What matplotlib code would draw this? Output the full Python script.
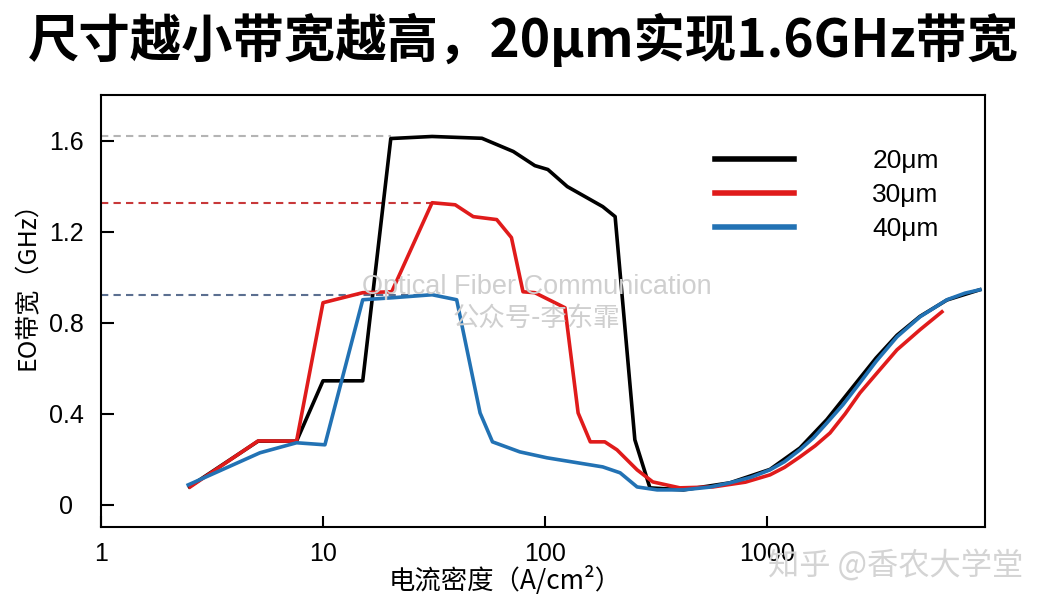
import matplotlib
matplotlib.use("Agg")
import matplotlib.pyplot as plt
import numpy as np

plt.rcParams['font.family'] = ['Liberation Sans', 'Noto Sans CJK SC', 'DejaVu Sans']

title = "尺寸越小带宽越高，20μm实现1.6GHz带宽"
xlabel = "电流密度（A/cm²）"
ylabel = "EO带宽（GHz）"
labels = ["20μm", "30μm", "40μm"]
colors = ["#000000", "#e01b1b", "#2272b4"]
dash_colors = ["#b4b4b4", "#c8383a", "#5b6f90"]
xticks = [1, 10, 100, 1000]
xtick_labels = ["1", "10", "100", "1000"]
yticks = [0, 0.4, 0.8, 1.2, 1.6]
ytick_labels = ["0", "0.4", "0.8", "1.2", "1.6"]

# current density (A/cm2) and EO bandwidth (GHz)
x_20 = [2.5, 5.1, 7.6, 10, 15.1, 20.2, 31, 52, 72, 90, 103, 126, 182, 207, 254, 297,
        420, 681, 1032, 1408, 1862, 2541, 3100, 3851, 4890, 6470, 9100]
y_20 = [0.08, 0.28, 0.28, 0.545, 0.545, 1.609, 1.618, 1.61, 1.552, 1.49, 1.473, 1.398, 1.31, 1.266, 0.286, 0.075,
        0.066, 0.097, 0.156, 0.25, 0.375, 0.54, 0.645, 0.745, 0.828, 0.9, 0.945]

x_30 = [2.52, 5.1, 7.6, 10, 15.1, 20.4, 31, 39.4, 47.5, 60.6, 70.6, 79.6, 90, 123, 141, 160, 186, 211, 260, 306,
        405, 571, 800, 1032, 1200, 1408, 1650, 1923, 2250, 2624, 3200, 3851, 4900, 6140]
y_30 = [0.079, 0.281, 0.28, 0.888, 0.932, 0.936, 1.327, 1.318, 1.266, 1.253, 1.174, 0.936, 0.932, 0.866, 0.404, 0.277, 0.277, 0.242, 0.154, 0.101,
        0.075, 0.079, 0.10, 0.132, 0.165, 0.211, 0.26, 0.316, 0.40, 0.492, 0.59, 0.681, 0.77, 0.848]

x_40 = [2.47, 5.2, 7.6, 10.2, 15.1, 20.7, 31, 40, 51, 58, 77, 102, 182, 218, 260, 320,
        419, 550, 681, 850, 1032, 1200, 1408, 1620, 1862, 2200, 2541, 3100, 3851, 4890, 6470, 7800, 9100]
y_40 = [0.088, 0.229, 0.273, 0.264, 0.901, 0.910, 0.923, 0.901, 0.404, 0.277, 0.233, 0.207, 0.167, 0.141, 0.079, 0.066,
        0.066, 0.078, 0.097, 0.122, 0.154, 0.19, 0.242, 0.295, 0.36, 0.44, 0.519, 0.63, 0.738, 0.826, 0.901, 0.93, 0.945]

series = [(x_20, y_20), (x_30, y_30), (x_40, y_40)]

fig = plt.figure(figsize=(10.48, 6.08), dpi=100)
ax = fig.add_axes([0.0964, 0.1332, 0.8435, 0.7105])

# dashed guides to the peak of each curve (low current hump)
for (xs, ys), dc in zip(series, dash_colors):
    xs = np.array(xs)
    ys = np.array(ys)
    low = xs < 100
    peak = ys[low].max()
    x_end = xs[np.argmax(ys >= 0.99 * peak)]
    ax.plot([1, x_end], [peak, peak], color=dc, lw=1.5, dashes=(3.5, 2.5), zorder=1)

for (xs, ys), c, lab in zip(series, colors, labels):
    ax.plot(xs, ys, color=c, lw=2.6, label=lab, zorder=3)

ax.set_xscale('log')
ax.set_xlim(1, 9600)
ax.set_ylim(-0.097, 1.80)
ax.set_xticks(xticks)
ax.set_xticklabels(xtick_labels)
ax.set_xticks([], minor=True)
ax.set_yticks(yticks)
ax.set_yticklabels(ytick_labels, ha='center')
ax.tick_params(axis='y', direction='in', length=9, width=1.5, labelsize=18, pad=25)
ax.tick_params(axis='x', direction='in', length=8, width=1.5, labelsize=18, pad=11)
for s in ax.spines.values():
    s.set_linewidth(1.5)

leg = ax.legend(loc='upper left', bbox_to_anchor=(0.668, 0.93), frameon=False,
                fontsize=19, handlelength=3.0, handletextpad=2.95, labelspacing=0.38)
for h in leg.get_lines():
    h.set_linewidth(4)

fig.text(0.482, 0.046, xlabel, ha='center', va='center', fontsize=19,
         family=['Noto Sans CJK SC'])
fig.text(0.027, 0.54, ylabel, ha='center', va='center', fontsize=18, rotation=90,
         family=['Noto Sans CJK SC'])
fig.text(0.5, 0.933, title, ha='center', va='center', fontsize=37, fontweight='bold',
         family=['Noto Sans CJK SC'])

# watermarks
fig.text(0.512, 0.528, "Optical Fiber Communication", ha='center', va='center',
         fontsize=19.5, color='#cfcfcf', zorder=0)
fig.text(0.512, 0.477, "公众号-李东霏", ha='center', va='center', fontsize=19,
         color='#cfcfcf', family=['Noto Sans CJK SC'])
fig.text(0.855, 0.07, "知乎 @香农大学堂", ha='center', va='center', fontsize=22.5,
         color='#d4d4d4', family=['Noto Sans CJK SC'])

fig.savefig("out.png", dpi=100)
